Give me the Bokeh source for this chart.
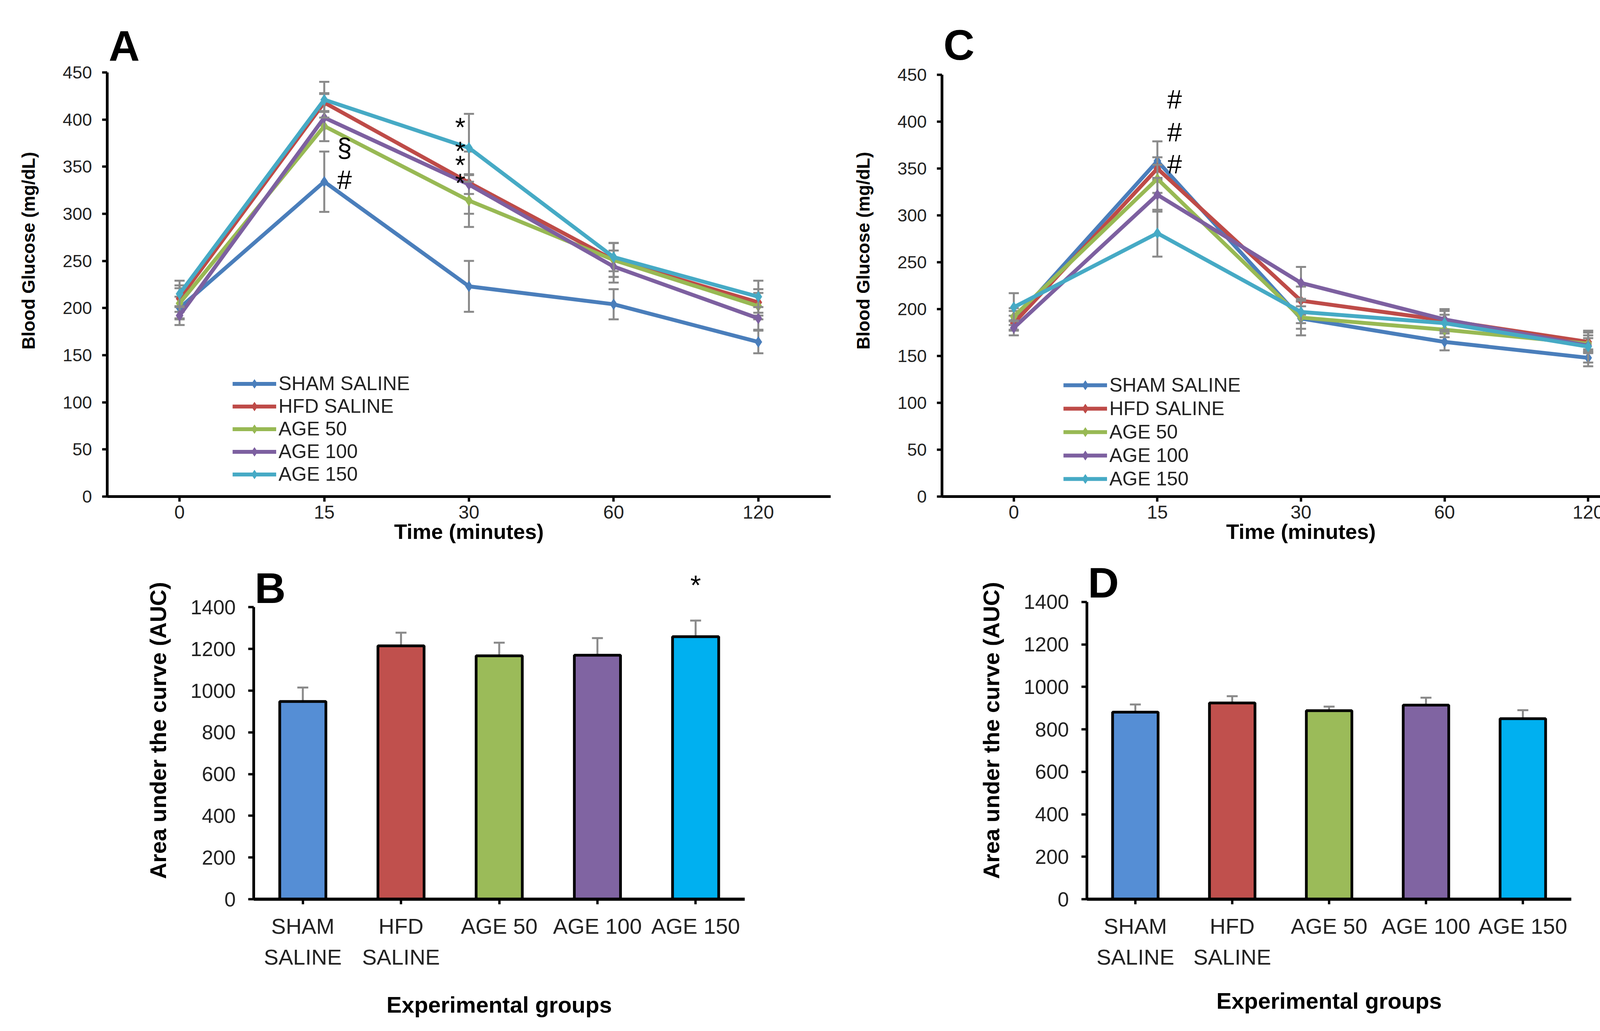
from bokeh.plotting import figure
from bokeh.layouts import column, row
from bokeh.models import (ColumnDataSource, FactorRange, CategoricalAxis, SingleIntervalTicker,
                          Legend, LegendItem, Range1d)
from bokeh.transform import dodge
from bokeh.core.properties import value
from bokeh.embed import file_html
from bokeh.resources import INLINE

FONT = "Liberation Sans"

# categories
time_labels = ["0", "15", "30", "60", "120"]
groups = ["SHAM SALINE", "HFD SALINE", "AGE 50", "AGE 100", "AGE 150"]
group_line1 = ["SHAM", "HFD", "AGE 50", "AGE 100", "AGE 150"]
# second text line under the bars (zero-width spaces keep the factors distinct)
group_line2 = ["SALINE", "SALINE\u200b", "\u200b", "\u200b\u200b", "\u200b\u200b\u200b"]

# panel A - blood glucose (mg/dL) over time
sham_a = [200, 334, 223, 204, 164]
hfd_a = [210, 418, 333, 251, 206]
age50_a = [205, 393, 314, 251, 202]
age100_a = [192, 402, 331, 244, 189]
age150_a = [215, 421, 370, 254, 212]
sham_a_err = [12, 32, 27, 16, 12]
hfd_a_err = [14, 10, 33, 18, 14]
age50_a_err = [16, 16, 28, 18, 14]
age100_a_err = [10, 25, 10, 17, 12]
age150_a_err = [14, 19, 36, 15, 17]

# panel C - blood glucose (mg/dL) over time
sham_c = [188, 358, 190, 165, 148]
hfd_c = [185, 350, 209, 188, 165]
age50_c = [192, 339, 191, 178, 163]
age100_c = [180, 322, 228, 189, 161]
age150_c = [202, 281, 197, 185, 160]
sham_c_err = [10, 21, 18, 9, 9]
hfd_c_err = [8, 12, 15, 10, 10]
age50_c_err = [9, 15, 12, 8, 9]
age100_c_err = [8, 18, 17, 11, 8]
age150_c_err = [15, 25, 12, 9, 17]

# panels B and D - area under the curve
auc_b = [948, 1215, 1167, 1170, 1259]
auc_b_err = [67, 63, 63, 82, 77]
auc_d = [881, 924, 888, 914, 850]
auc_d_err = [36, 32, 19, 35, 40]

line_colors = ["#4A7EBB", "#BE4B48", "#98B954", "#7D60A0", "#46AAC5"]
bar_colors = ["#558ED5", "#C0504D", "#9BBB59", "#8064A2", "#00B0F0"]
ERR_COLOR = "#8a8a8a"


def style_axis(ax, label_size, title_size):
    ax.axis_line_width = 7
    ax.axis_line_color = "black"
    ax.major_tick_line_width = 6
    ax.major_tick_line_color = "black"
    ax.major_tick_in = 0
    ax.major_tick_out = 13
    ax.minor_tick_line_color = None
    ax.major_label_text_font = FONT
    ax.major_label_text_font_size = label_size
    ax.major_label_text_color = "#222222"
    ax.axis_label_text_font = FONT
    ax.axis_label_text_font_style = "bold"
    ax.axis_label_text_font_size = title_size
    ax.axis_label_text_color = "black"


def base_figure(factors, width, height, borders, y_top, y_end, y_step):
    # the y range runs a little past the axis so the panel letter fits above it
    left, right, top, bottom = borders
    p = figure(width=width, height=height, title=None,
               x_range=FactorRange(factors=factors), y_range=Range1d(0, y_end),
               output_backend="svg", toolbar_location=None,
               min_border_left=left, min_border_right=right,
               min_border_top=top, min_border_bottom=bottom)
    p.outline_line_color = None
    p.xgrid.grid_line_color = None
    p.ygrid.grid_line_color = None
    p.yaxis.ticker = SingleIntervalTicker(interval=y_step, num_minor_ticks=0)
    p.yaxis.bounds = (0, y_top)
    return p


def add_letter(p, letter, first_factor, y):
    src = ColumnDataSource(dict(x=[first_factor], y=[y], t=[letter]))
    p.text(x=dodge("x", -0.49, range=p.x_range), y="y", text="t", source=src,
           text_font=value(FONT), text_font_size="110px", text_font_style="bold",
           text_align="left", text_baseline="alphabetic", text_color="black")


def line_panel(letter, letter_y, series, errors, width, height, borders, y_end,
               legend_loc, legend_row):
    p = base_figure(time_labels, width, height, borders, 450, y_end, 50)
    style_axis(p.xaxis[0], "48px", "54px")
    style_axis(p.yaxis[0], "45px", "46px")
    p.xaxis.axis_label = "Time (minutes)"
    p.xaxis.major_label_standoff = 10
    p.xaxis.axis_label_standoff = 0
    p.yaxis.axis_label = "Blood Glucose (mg/dL)"
    p.yaxis.major_label_standoff = 26
    p.yaxis.axis_label_standoff = 58

    items = []
    for name, vals, errs, color in zip(groups, series, errors, line_colors):
        src = ColumnDataSource(dict(
            x=time_labels, y=vals,
            lo=[v - e for v, e in zip(vals, errs)],
            hi=[v + e for v, e in zip(vals, errs)]))
        p.segment(x0="x", y0="lo", x1="x", y1="hi", source=src,
                  line_color=ERR_COLOR, line_width=5)
        p.scatter("x", "lo", source=src, marker="dash", size=26,
                  line_color=ERR_COLOR, line_width=5)
        p.scatter("x", "hi", source=src, marker="dash", size=26,
                  line_color=ERR_COLOR, line_width=5)
        r1 = p.line("x", "y", source=src, line_color=color, line_width=10)
        r2 = p.scatter("x", "y", source=src, marker="diamond", size=28,
                       fill_color=color, line_color=color)
        items.append(LegendItem(label=name, renderers=[r1, r2]))

    legend = Legend(items=items, location=legend_loc, padding=0, margin=0, spacing=0,
                    glyph_width=112, glyph_height=legend_row, label_height=legend_row,
                    label_standoff=6, border_line_color=None, background_fill_alpha=0,
                    label_text_font=FONT, label_text_font_size="50px",
                    label_text_color="#222222")
    p.add_layout(legend)
    add_letter(p, letter, time_labels[0], letter_y)
    return p


def bar_panel(letter, letter_y, auc, errs, width, height, borders, y_end, xlabel_standoff):
    p = base_figure(group_line1, width, height, borders, 1400, y_end, 200)
    style_axis(p.xaxis[0], "56px", "58px")
    style_axis(p.yaxis[0], "52px", "58px")
    p.xaxis.axis_line_width = 8
    p.xaxis.major_label_standoff = 24
    p.yaxis.major_tick_out = 14
    p.yaxis.major_label_standoff = 32
    p.yaxis.axis_label = "Area under the curve (AUC)"
    p.yaxis.axis_label_standoff = 48

    # second line of the group names, with the axis title under it
    p.extra_x_ranges = {"line2": FactorRange(factors=group_line2)}
    ax2 = CategoricalAxis(x_range_name="line2")
    style_axis(ax2, "56px", "58px")
    ax2.axis_line_color = None
    ax2.major_tick_line_color = None
    ax2.major_label_standoff = 0
    ax2.axis_label = "Experimental groups"
    ax2.axis_label_standoff = xlabel_standoff
    p.add_layout(ax2, "below")

    src = ColumnDataSource(dict(x=group_line1, top=auc,
                                hi=[a + e for a, e in zip(auc, errs)], color=bar_colors))
    p.segment(x0="x", y0="top", x1="x", y1="hi", source=src,
              line_color=ERR_COLOR, line_width=5)
    p.scatter("x", "hi", source=src, marker="dash", size=28,
              line_color=ERR_COLOR, line_width=5)
    p.vbar(x="x", top="top", source=src, width=0.47, fill_color="color",
           line_color="black", line_width=7)
    add_letter(p, letter, group_line1[0], letter_y)
    return p


pa = line_panel("A", 478.6, [sham_a, hfd_a, age50_a, age100_a, age150_a],
                [sham_a_err, hfd_a_err, age50_a_err, age100_a_err, age150_a_err],
                2135, 1428, (274, 9, 12, 141), 521.6, (321, 28), 57)
marks_a = ColumnDataSource(dict(x=["15", "15", "30", "30", "30", "30"],
                                y=[370, 336, 392, 367, 352, 333],
                                t=["\u00a7", "#", "*", "*", "*", "*"]))
pa.text(x=dodge("x", 0.14, range=pa.x_range), y="y", text="t",
        source=ColumnDataSource(dict(x=marks_a.data["x"][:2], y=marks_a.data["y"][:2],
                                     t=marks_a.data["t"][:2])),
        text_font=value(FONT), text_font_size="68px",
        text_align="center", text_baseline="middle", text_color="black")
pa.text(x=dodge("x", -0.06, range=pa.x_range), y="y", text="t",
        source=ColumnDataSource(dict(x=marks_a.data["x"][2:], y=marks_a.data["y"][2:],
                                     t=marks_a.data["t"][2:])),
        text_font=value(FONT), text_font_size="68px",
        text_align="center", text_baseline="middle", text_color="black")

pc = line_panel("C", 482.0, [sham_c, hfd_c, age50_c, age100_c, age150_c],
                [sham_c_err, hfd_c_err, age50_c_err, age100_c_err, age150_c_err],
                2135, 1428, (276, 21, 12, 157), 524.6, (311, 15), 60)
marks_c = ColumnDataSource(dict(x=["15", "15", "15"], y=[424, 389, 355],
                                t=["#", "#", "#"]))
pc.text(x=dodge("x", 0.12, range=pc.x_range), y="y", text="t", source=marks_c,
        text_font=value(FONT), text_font_size="68px",
        text_align="center", text_baseline="middle", text_color="black")

pb = bar_panel("B", 1492, auc_b, auc_b_err, 2135, 1196, (649, 229, 10, 322), 1618, 55)
marks_b = ColumnDataSource(dict(x=["AGE 150"], y=[1504], t=["*"]))
pb.text(x="x", y="y", text="t", source=marks_b, text_font=value(FONT),
        text_font_size="70px", text_align="center", text_baseline="middle",
        text_color="black")

pd = bar_panel("D", 1491, auc_d, auc_d_err, 2135, 1196, (647, 248, 10, 300), 1589, 45)

layout = column(row(pa, pc), row(pb, pd))

open("out.html", "w").write(file_html(layout, INLINE))
